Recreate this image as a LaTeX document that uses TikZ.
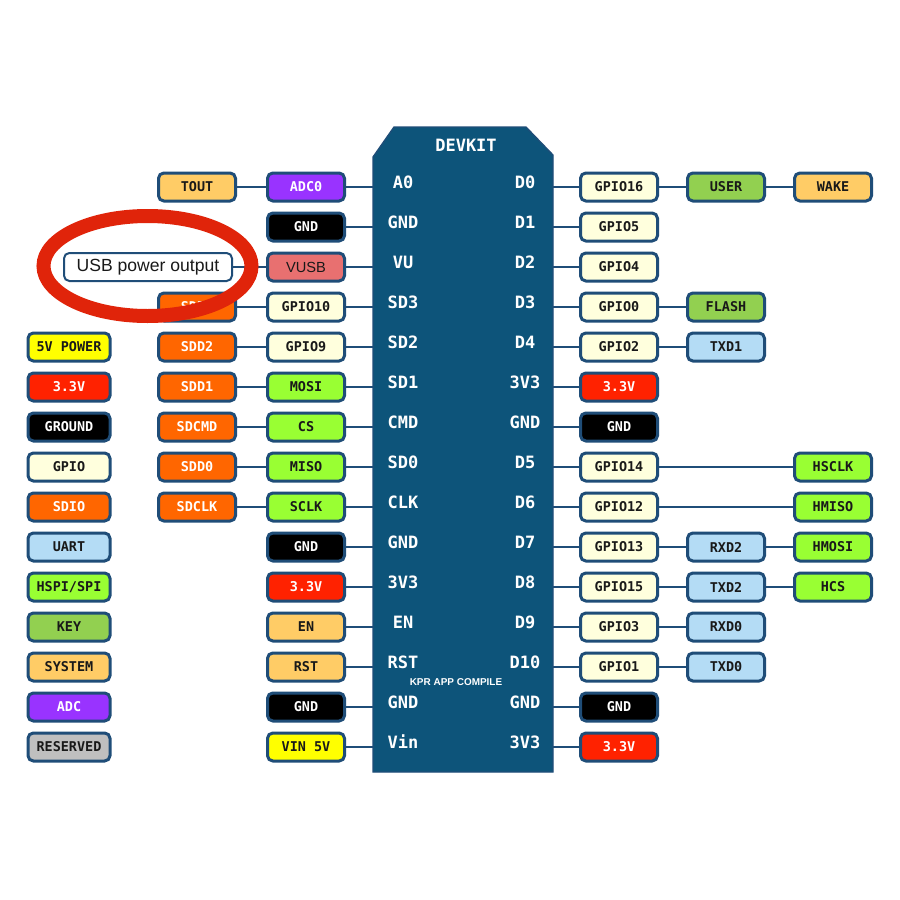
\documentclass[tikz,border=0pt]{standalone}
\usepackage{fontspec}
\setmainfont{Liberation Sans}
\newfontfamily\pinfont{DejaVu Sans Mono}
\usepackage{tikz}
\usetikzlibrary{calc}
\definecolor{pin-border}{RGB}{31,77,120}
\definecolor{board-blue}{RGB}{13,84,122}
\definecolor{gpio-cream}{RGB}{255,255,221}
\definecolor{sdio-orange}{RGB}{255,102,0}
\definecolor{hspi-green}{RGB}{153,255,51}
\definecolor{key-green}{RGB}{146,208,80}
\definecolor{uart-blue}{RGB}{180,220,245}
\definecolor{system-orange}{RGB}{255,204,102}
\definecolor{adc-purple}{RGB}{153,51,255}
\definecolor{power-red}{RGB}{255,34,0}
\definecolor{vin-yellow}{RGB}{255,255,0}
\definecolor{reserved-gray}{RGB}{191,191,191}
\definecolor{vusb-pink}{RGB}{232,112,112}
\definecolor{ring-red}{RGB}{224,36,10}
\newcommand{\pinsize}{\pinfont\bfseries\fontsize{11.5pt}{13pt}\selectfont}
\newcommand{\boardsize}{\pinfont\bfseries\fontsize{14.5pt}{16pt}\selectfont}
\tikzstyle{pinbox}=[draw=pin-border, line width=0.9mm, rounded corners=1.6mm, minimum width=23.1mm, minimum height=8.4mm, inner sep=0pt, font=\pinsize, text=black!90]
\tikzstyle{legendbox}=[pinbox, minimum width=24.6mm]
\tikzstyle{gpio-pin}=[fill=gpio-cream]
\tikzstyle{sdio-pin}=[fill=sdio-orange, text=white]
\tikzstyle{hspi-pin}=[fill=hspi-green]
\tikzstyle{key-pin}=[fill=key-green]
\tikzstyle{uart-pin}=[fill=uart-blue]
\tikzstyle{system-pin}=[fill=system-orange]
\tikzstyle{adc-pin}=[fill=adc-purple, text=white]
\tikzstyle{power-pin}=[fill=power-red, text=white]
\tikzstyle{ground-pin}=[fill=black, text=white]
\tikzstyle{vin-pin}=[fill=vin-yellow]
\tikzstyle{reserved-pin}=[fill=reserved-gray]
\tikzstyle{boardlabel}=[text=white, font=\boardsize, inner sep=0pt]
\tikzstyle{wire}=[draw=pin-border, line width=0.7mm]
\tikzstyle{pixels}=[x=0.3mm, y=-0.3mm]

\begin{document}
\begin{tikzpicture}[pixels]
	\fill[white] (0,0) rectangle (900,900);
	\useasboundingbox (0,0) rectangle (900,900);
	% board
	\filldraw[fill=board-blue, draw=pin-border, line width=0.4mm] (373,157) -- (394,127) -- (526,127) -- (553,155) -- (553,772) -- (373,772) -- cycle;
	\coordinate (board-w) at (373,470);
	\coordinate (board-e) at (553,470);
	\node[boardlabel] (devkit) at (466,145) {DEVKIT};
	\node[text=white, font=\bfseries\fontsize{8.5pt}{9pt}\selectfont, inner sep=0pt] (kpr) at (456,682) {KPR APP COMPILE};
	\node[boardlabel] (l-a0) at (403,182) {A0};
	\node[boardlabel] (l-gnd1) at (403,222) {GND};
	\node[boardlabel] (l-vu) at (403,262) {VU};
	\node[boardlabel] (l-sd3) at (403,302) {SD3};
	\node[boardlabel] (l-sd2) at (403,342) {SD2};
	\node[boardlabel] (l-sd1) at (403,382) {SD1};
	\node[boardlabel] (l-cmd) at (403,422) {CMD};
	\node[boardlabel] (l-sd0) at (403,462) {SD0};
	\node[boardlabel] (l-clk) at (403,502) {CLK};
	\node[boardlabel] (l-gnd2) at (403,542) {GND};
	\node[boardlabel] (l-3v3a) at (403,582) {3V3};
	\node[boardlabel] (l-en) at (403,622) {EN};
	\node[boardlabel] (l-rst) at (403,662) {RST};
	\node[boardlabel] (l-gnd3) at (403,702) {GND};
	\node[boardlabel] (l-vin) at (403,742) {Vin};
	\node[boardlabel] (r-d0) at (525,182) {D0};
	\node[boardlabel] (r-d1) at (525,222) {D1};
	\node[boardlabel] (r-d2) at (525,262) {D2};
	\node[boardlabel] (r-d3) at (525,302) {D3};
	\node[boardlabel] (r-d4) at (525,342) {D4};
	\node[boardlabel] (r-3v3a) at (525,382) {3V3};
	\node[boardlabel] (r-gnd1) at (525,422) {GND};
	\node[boardlabel] (r-d5) at (525,462) {D5};
	\node[boardlabel] (r-d6) at (525,502) {D6};
	\node[boardlabel] (r-d7) at (525,542) {D7};
	\node[boardlabel] (r-d8) at (525,582) {D8};
	\node[boardlabel] (r-d9) at (525,622) {D9};
	\node[boardlabel] (r-d10) at (525,662) {D10};
	\node[boardlabel] (r-gnd2) at (525,702) {GND};
	\node[boardlabel] (r-3v3b) at (525,742) {3V3};
	% legend
	\node[legendbox, vin-pin] (leg-5v) at (69,347) {5V POWER};
	\node[legendbox, power-pin] (leg-33) at (69,387) {3.3V};
	\node[legendbox, ground-pin] (leg-gnd) at (69,427) {GROUND};
	\node[legendbox, gpio-pin] (leg-gpio) at (69,467) {GPIO};
	\node[legendbox, sdio-pin] (leg-sdio) at (69,507) {SDIO};
	\node[legendbox, uart-pin] (leg-uart) at (69,547) {UART};
	\node[legendbox, hspi-pin] (leg-hspi) at (69,587) {HSPI/SPI};
	\node[legendbox, key-pin] (leg-key) at (69,627) {KEY};
	\node[legendbox, system-pin] (leg-sys) at (69,667) {SYSTEM};
	\node[legendbox, adc-pin] (leg-adc) at (69,707) {ADC};
	\node[legendbox, reserved-pin] (leg-res) at (69,747) {RESERVED};
	% left side pins
	\node[pinbox, system-pin] (tout) at (197,187) {TOUT};
	\node[pinbox, sdio-pin] (sdd3) at (197,307) {SDD3};
	\node[pinbox, sdio-pin] (sdd2) at (197,347) {SDD2};
	\node[pinbox, sdio-pin] (sdd1) at (197,387) {SDD1};
	\node[pinbox, sdio-pin] (sdcmd) at (197,427) {SDCMD};
	\node[pinbox, sdio-pin] (sdd0) at (197,467) {SDD0};
	\node[pinbox, sdio-pin] (sdclk) at (197,507) {SDCLK};
	\node[pinbox, adc-pin] (adc0) at (306,187) {ADC0};
	\node[pinbox, ground-pin] (gnd-a) at (306,227) {GND};
	\node[pinbox, fill=vusb-pink, font=\fontsize{12.5pt}{14pt}\selectfont] (vusb) at (306,267) {VUSB};
	\node[pinbox, gpio-pin] (gpio10) at (306,307) {GPIO10};
	\node[pinbox, gpio-pin] (gpio9) at (306,347) {GPIO9};
	\node[pinbox, hspi-pin] (mosi) at (306,387) {MOSI};
	\node[pinbox, hspi-pin] (cs) at (306,427) {CS};
	\node[pinbox, hspi-pin] (miso) at (306,467) {MISO};
	\node[pinbox, hspi-pin] (sclk) at (306,507) {SCLK};
	\node[pinbox, ground-pin] (gnd-b) at (306,547) {GND};
	\node[pinbox, power-pin] (v33-a) at (306,587) {3.3V};
	\node[pinbox, system-pin] (en) at (306,627) {EN};
	\node[pinbox, system-pin] (rst) at (306,667) {RST};
	\node[pinbox, ground-pin] (gnd-c) at (306,707) {GND};
	\node[pinbox, vin-pin] (vin5v) at (306,747) {VIN 5V};
	\node[pinbox, line width=0.6mm, fill=white, minimum width=50.4mm, font=\fontsize{15pt}{17pt}\selectfont] (usb-out) at (148,267) {USB power output};
	% right side pins
	\node[pinbox, gpio-pin] (gpio16) at (619,187) {GPIO16};
	\node[pinbox, gpio-pin] (gpio5) at (619,227) {GPIO5};
	\node[pinbox, gpio-pin] (gpio4) at (619,267) {GPIO4};
	\node[pinbox, gpio-pin] (gpio0) at (619,307) {GPIO0};
	\node[pinbox, gpio-pin] (gpio2) at (619,347) {GPIO2};
	\node[pinbox, power-pin] (v33-b) at (619,387) {3.3V};
	\node[pinbox, ground-pin] (gnd-d) at (619,427) {GND};
	\node[pinbox, gpio-pin] (gpio14) at (619,467) {GPIO14};
	\node[pinbox, gpio-pin] (gpio12) at (619,507) {GPIO12};
	\node[pinbox, gpio-pin] (gpio13) at (619,547) {GPIO13};
	\node[pinbox, gpio-pin] (gpio15) at (619,587) {GPIO15};
	\node[pinbox, gpio-pin] (gpio3) at (619,627) {GPIO3};
	\node[pinbox, gpio-pin] (gpio1) at (619,667) {GPIO1};
	\node[pinbox, ground-pin] (gnd-e) at (619,707) {GND};
	\node[pinbox, power-pin] (v33-c) at (619,747) {3.3V};
	\node[pinbox, key-pin] (user) at (726,187) {USER};
	\node[pinbox, key-pin] (flash) at (726,307) {FLASH};
	\node[pinbox, uart-pin] (txd1) at (726,347) {TXD1};
	\node[pinbox, uart-pin] (rxd2) at (726,547) {RXD2};
	\node[pinbox, uart-pin] (txd2) at (726,587) {TXD2};
	\node[pinbox, uart-pin] (rxd0) at (726,627) {RXD0};
	\node[pinbox, uart-pin] (txd0) at (726,667) {TXD0};
	\node[pinbox, system-pin] (wake) at (833,187) {WAKE};
	\node[pinbox, hspi-pin] (hsclk) at (833,467) {HSCLK};
	\node[pinbox, hspi-pin] (hmiso) at (833,507) {HMISO};
	\node[pinbox, hspi-pin] (hmosi) at (833,547) {HMOSI};
	\node[pinbox, hspi-pin] (hcs) at (833,587) {HCS};
	% connectors
	\draw[wire] (tout.east) -- (adc0.west);
	\draw[wire] (usb-out.east) -- (vusb.west);
	\draw[wire] (sdd3.east) -- (gpio10.west);
	\draw[wire] (sdd2.east) -- (gpio9.west);
	\draw[wire] (sdd1.east) -- (mosi.west);
	\draw[wire] (sdcmd.east) -- (cs.west);
	\draw[wire] (sdd0.east) -- (miso.west);
	\draw[wire] (sdclk.east) -- (sclk.west);
	\draw[wire] (adc0.east) -- (adc0.east -| board-w);
	\draw[wire] (gnd-a.east) -- (gnd-a.east -| board-w);
	\draw[wire] (vusb.east) -- (vusb.east -| board-w);
	\draw[wire] (gpio10.east) -- (gpio10.east -| board-w);
	\draw[wire] (gpio9.east) -- (gpio9.east -| board-w);
	\draw[wire] (mosi.east) -- (mosi.east -| board-w);
	\draw[wire] (cs.east) -- (cs.east -| board-w);
	\draw[wire] (miso.east) -- (miso.east -| board-w);
	\draw[wire] (sclk.east) -- (sclk.east -| board-w);
	\draw[wire] (gnd-b.east) -- (gnd-b.east -| board-w);
	\draw[wire] (v33-a.east) -- (v33-a.east -| board-w);
	\draw[wire] (en.east) -- (en.east -| board-w);
	\draw[wire] (rst.east) -- (rst.east -| board-w);
	\draw[wire] (gnd-c.east) -- (gnd-c.east -| board-w);
	\draw[wire] (vin5v.east) -- (vin5v.east -| board-w);
	\draw[wire] (gpio16.west -| board-e) -- (gpio16.west);
	\draw[wire] (gpio5.west -| board-e) -- (gpio5.west);
	\draw[wire] (gpio4.west -| board-e) -- (gpio4.west);
	\draw[wire] (gpio0.west -| board-e) -- (gpio0.west);
	\draw[wire] (gpio2.west -| board-e) -- (gpio2.west);
	\draw[wire] (v33-b.west -| board-e) -- (v33-b.west);
	\draw[wire] (gnd-d.west -| board-e) -- (gnd-d.west);
	\draw[wire] (gpio14.west -| board-e) -- (gpio14.west);
	\draw[wire] (gpio12.west -| board-e) -- (gpio12.west);
	\draw[wire] (gpio13.west -| board-e) -- (gpio13.west);
	\draw[wire] (gpio15.west -| board-e) -- (gpio15.west);
	\draw[wire] (gpio3.west -| board-e) -- (gpio3.west);
	\draw[wire] (gpio1.west -| board-e) -- (gpio1.west);
	\draw[wire] (gnd-e.west -| board-e) -- (gnd-e.west);
	\draw[wire] (v33-c.west -| board-e) -- (v33-c.west);
	\draw[wire] (gpio16.east) -- (user.west);
	\draw[wire] (user.east) -- (wake.west);
	\draw[wire] (gpio0.east) -- (flash.west);
	\draw[wire] (gpio2.east) -- (txd1.west);
	\draw[wire] (gpio14.east) -- (hsclk.west);
	\draw[wire] (gpio12.east) -- (hmiso.west);
	\draw[wire] (gpio13.east) -- (rxd2.west);
	\draw[wire] (rxd2.east) -- (hmosi.west);
	\draw[wire] (gpio15.east) -- (txd2.west);
	\draw[wire] (txd2.east) -- (hcs.west);
	\draw[wire] (gpio3.east) -- (rxd0.west);
	\draw[wire] (gpio1.east) -- (txd0.west);
	% red ring
	\draw[ring-red, line width=4.2mm] (147.5,266) ellipse [x radius=31.2mm, y radius=15mm];
\end{tikzpicture}
\end{document}
